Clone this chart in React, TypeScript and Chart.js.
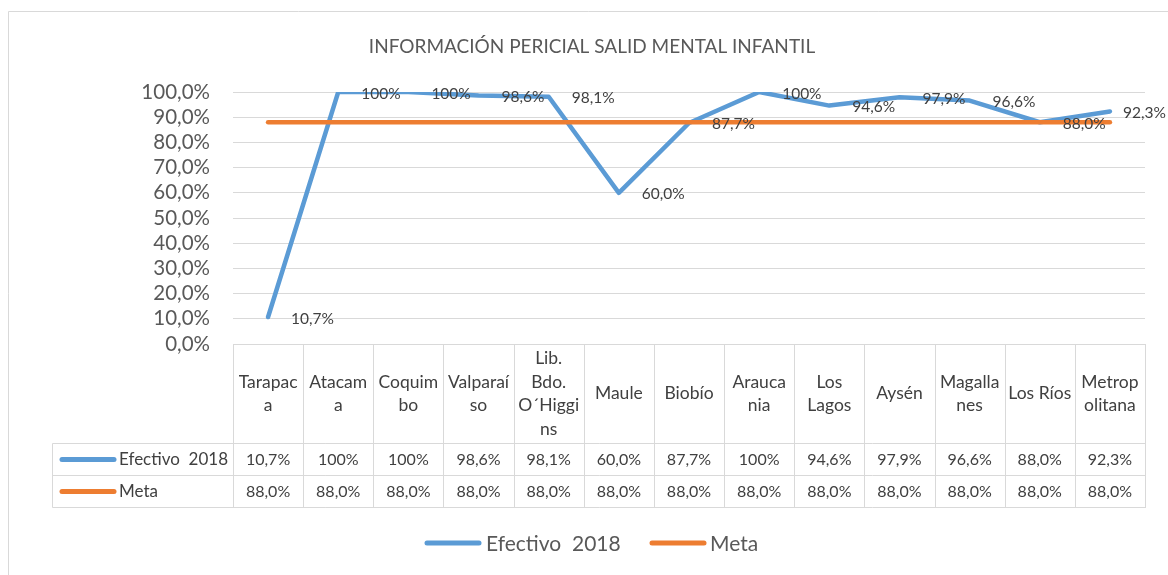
import React, { useEffect, useRef } from "react";
import { Chart, registerables } from "chart.js";

Chart.register(...registerables);

const TITLE = "INFORMACIÓN PERICIAL SALID MENTAL INFANTIL";
const categories: string[][] = [
  ["Tarapac", "a"],
  ["Atacam", "a"],
  ["Coquim", "bo"],
  ["Valparaí", "so"],
  ["Lib.", "Bdo.", "O´Higgi", "ns"],
  ["Maule"],
  ["Biobío"],
  ["Arauca", "nia"],
  ["Los", "Lagos"],
  ["Aysén"],
  ["Magalla", "nes"],
  ["Los Ríos"],
  ["Metrop", "olitana"],
];
const efectivo2018 = [10.7, 100, 100, 98.6, 98.1, 60.0, 87.7, 100, 94.6, 97.9, 96.6, 88.0, 92.3];
const meta = [88.0, 88.0, 88.0, 88.0, 88.0, 88.0, 88.0, 88.0, 88.0, 88.0, 88.0, 88.0, 88.0];
const seriesNames = ["Efectivo  2018", "Meta"];
const seriesColors = ["#5B9BD5", "#ED7D31"];
const yMin = 0;
const yMax = 100;
const yStep = 10;

const FONT = "Lato";
const GRID = "#d9d9d9";
const TEXT_DARK = "#404040";
const TEXT_MID = "#595959";

const fmtTick = (v: number) => v.toFixed(1).replace(".", ",") + "%";
const fmtVal = (v: number) => (v === 100 ? "100%" : v.toFixed(1).replace(".", ",") + "%");

const framePlugin = {
  id: "frame",
  beforeDraw(chart: any) {
    const ctx = chart.ctx;
    ctx.save();
    ctx.fillStyle = "#ffffff";
    ctx.fillRect(0, 0, chart.width, chart.height);
    ctx.strokeStyle = GRID;
    ctx.lineWidth = 1;
    ctx.beginPath();
    ctx.moveTo(8.5, chart.height);
    ctx.lineTo(8.5, 11.5);
    ctx.lineTo(chart.width, 11.5);
    ctx.stroke();
    ctx.fillStyle = TEXT_MID;
    ctx.font = `19px ${FONT}`;
    ctx.textAlign = "center";
    ctx.textBaseline = "middle";
    ctx.fillText(TITLE, 592, 47);
    ctx.restore();
  },
};

const labelsPlugin = {
  id: "valueLabels",
  afterDatasetsDraw(chart: any) {
    const ctx = chart.ctx;
    const m = chart.getDatasetMeta(1);
    ctx.save();
    ctx.fillStyle = TEXT_DARK;
    ctx.font = `15.5px ${FONT}`;
    ctx.textAlign = "left";
    ctx.textBaseline = "middle";
    m.data.forEach((pt: any, i: number) => {
      const t = fmtVal(efectivo2018[i]);
      const w = ctx.measureText(t).width;
      const x = Math.min(pt.x + 23, chart.width - w - 2);
      ctx.fillText(t, x, pt.y + 1.5);
    });
    ctx.restore();
  },
};

const tablePlugin = {
  id: "dataTable",
  afterDraw(chart: any) {
    const ctx = chart.ctx;
    const xs = chart.scales.x;
    const { left, right, bottom } = chart.chartArea;
    const n = categories.length;
    const colW = (right - left) / n;
    const headTop = bottom;
    const row1 = 443.5;
    const row2 = 475.5;
    const row3 = 507.5;
    const tableLeft = 52.5;
    ctx.save();
    ctx.strokeStyle = GRID;
    ctx.lineWidth = 1;
    ctx.beginPath();
    ctx.moveTo(left, Math.round(headTop) + 0.5);
    ctx.lineTo(right + 1, Math.round(headTop) + 0.5);
    [row1, row2, row3].forEach((y) => {
      ctx.moveTo(tableLeft, y);
      ctx.lineTo(right + 1, y);
    });
    for (let i = 0; i <= n; i++) {
      const x = Math.round(xs.getPixelForValue(0) - colW / 2 + i * colW) + 0.5;
      ctx.moveTo(x, headTop);
      ctx.lineTo(x, row3);
    }
    ctx.moveTo(tableLeft, row1);
    ctx.lineTo(tableLeft, row3);
    ctx.stroke();

    ctx.fillStyle = TEXT_DARK;
    ctx.textAlign = "center";
    ctx.textBaseline = "middle";
    ctx.font = `17.5px ${FONT}`;
    const lh = 23.7;
    const headMid = (headTop + row1) / 2;
    categories.forEach((lines, i) => {
      const cx = xs.getPixelForValue(i);
      const y0 = headMid - ((lines.length - 1) * lh) / 2;
      lines.forEach((t, k) => ctx.fillText(t, cx, y0 + k * lh));
    });

    ctx.font = `16px ${FONT}`;
    const rows = [efectivo2018, meta];
    const mids = [(row1 + row2) / 2, (row2 + row3) / 2];
    rows.forEach((vals, r) => {
      vals.forEach((v, i) => {
        ctx.fillText(fmtVal(v), xs.getPixelForValue(i), mids[r] + 0.5);
      });
    });

    ctx.textAlign = "left";
    ctx.font = `17px ${FONT}`;
    ctx.lineCap = "round";
    seriesNames.forEach((name, r) => {
      ctx.strokeStyle = seriesColors[r];
      ctx.lineWidth = 5;
      ctx.beginPath();
      ctx.moveTo(62, mids[r]);
      ctx.lineTo(114, mids[r]);
      ctx.stroke();
      ctx.fillStyle = TEXT_DARK;
      ctx.fillText(name, 119, mids[r] + 0.5);
    });

    ctx.font = `21px ${FONT}`;
    ctx.fillStyle = TEXT_MID;
    const ly = 543;
    const items = [
      { x: 427, tx: 486 },
      { x: 652, tx: 710 },
    ];
    seriesNames.forEach((name, r) => {
      ctx.strokeStyle = seriesColors[r];
      ctx.lineWidth = 5;
      ctx.beginPath();
      ctx.moveTo(items[r].x, ly);
      ctx.lineTo(items[r].x + 52, ly);
      ctx.stroke();
      ctx.fillText(name, items[r].tx, ly + 1);
    });
    ctx.restore();
  },
};

export default function App() {
  const ref = useRef<HTMLCanvasElement | null>(null);
  useEffect(() => {
    if (!ref.current) return;
    const chart = new Chart(ref.current, {
      type: "line",
      data: {
        labels: categories,
        datasets: [
          {
            label: seriesNames[1],
            data: meta,
            borderColor: seriesColors[1],
            backgroundColor: seriesColors[1],
            borderWidth: 4.5,
            pointRadius: 0,
            tension: 0,
            borderCapStyle: "round",
            borderJoinStyle: "round",
            order: 0,
          },
          {
            label: seriesNames[0],
            data: efectivo2018,
            borderColor: seriesColors[0],
            backgroundColor: seriesColors[0],
            borderWidth: 4.5,
            pointRadius: 0,
            tension: 0,
            borderCapStyle: "round",
            borderJoinStyle: "round",
            order: 1,
          },
        ],
      },
      options: {
        responsive: false,
        animation: false,
        layout: { padding: { left: 0, right: 23, top: 92, bottom: 231 } },
        plugins: {
          legend: { display: false },
          title: { display: false },
          tooltip: { enabled: false },
        },
        scales: {
          x: {
            display: false,
            offset: true,
          },
          y: {
            min: yMin,
            max: yMax,
            afterFit: (s: any) => {
              s.width = 233;
            },
            border: { display: false },
            grid: { color: GRID, lineWidth: 1, drawTicks: false },
            ticks: {
              stepSize: yStep,
              autoSkip: false,
              padding: 23,
              color: TEXT_MID,
              font: { family: FONT, size: 20.5 },
              callback: (v: any) => fmtTick(Number(v)),
            },
          },
        },
      },
      plugins: [framePlugin, labelsPlugin, tablePlugin],
    });
    return () => chart.destroy();
  }, []);
  return (
    <div style={{ position: "fixed", left: 0, top: 0, width: 1168, height: 575, background: "#fff" }}>
      <canvas ref={ref} width={1168} height={575} style={{ display: "block" }} />
    </div>
  );
}
